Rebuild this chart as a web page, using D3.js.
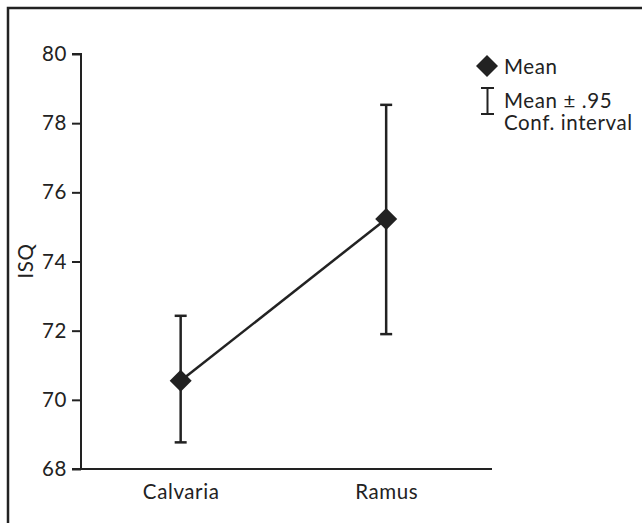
<!DOCTYPE html>
<html>
<head>
<meta charset="utf-8">
<script src="https://cdn.jsdelivr.net/npm/d3@7"></script>
<style>
  body { margin: 0; background: #fff; }
  text { font-family: Lato, "Noto Sans", sans-serif; fill: #222; letter-spacing: 0.6px; }
</style>
</head>
<body>
<div id="chart"></div>
<script>
// data
var groups = ["Calvaria", "Ramus"];
var means = [70.55, 75.23];
var lower = [68.77, 71.9];
var upper = [72.43, 78.53];
var yTicks = [68, 70, 72, 74, 76, 78, 80];

var width = 642, height = 523;
var ink = "#222";
var fontSize = 20.5;

var svg = d3.select("#chart")
    .append("svg")
    .attr("width", width)
    .attr("height", height);

// frame (top and left edges show in the picture)
svg.append("path")
    .attr("d", "M8,523 V8 H642")
    .attr("fill", "none")
    .attr("stroke", ink)
    .attr("stroke-width", 2.5);

// scales
var xScale = d3.scalePoint()
    .domain(groups)
    .range([81, 492])
    .padding(0.5)
    .align(0.485);

var yScale = d3.scaleLinear()
    .domain([68, 80])
    .range([469, 54]);

// axes
var yAxis = d3.axisLeft(yScale)
    .tickValues(yTicks)
    .tickSize(9)
    .tickPadding(5);

var gY = svg.append("g")
    .attr("transform", "translate(81,0)")
    .call(yAxis);

gY.select(".domain").attr("d", "M-9,54 H0 V469 H-9");

var xAxis = d3.axisBottom(xScale)
    .tickSize(0)
    .tickPadding(15);

var gX = svg.append("g")
    .attr("transform", "translate(0,469)")
    .call(xAxis);

gX.select(".domain").attr("d", "M81,0 H492");

svg.selectAll(".domain, .tick line")
    .attr("stroke", ink)
    .attr("stroke-width", 2);
svg.selectAll(".tick text")
    .attr("font-size", fontSize)
    .attr("fill", ink);

// y label
svg.append("text")
    .attr("transform", "translate(33,261) rotate(-90)")
    .attr("text-anchor", "middle")
    .attr("font-size", fontSize)
    .text("ISQ");

// error bars
var bars = svg.selectAll(".err")
    .data(groups)
    .enter().append("g")
    .attr("class", "err");

bars.append("line")
    .attr("x1", function(d) { return xScale(d); })
    .attr("x2", function(d) { return xScale(d); })
    .attr("y1", function(d, i) { return yScale(lower[i]); })
    .attr("y2", function(d, i) { return yScale(upper[i]); });

bars.append("line")
    .attr("x1", function(d) { return xScale(d) - 6; })
    .attr("x2", function(d) { return xScale(d) + 6; })
    .attr("y1", function(d, i) { return yScale(lower[i]); })
    .attr("y2", function(d, i) { return yScale(lower[i]); });

bars.append("line")
    .attr("x1", function(d) { return xScale(d) - 6; })
    .attr("x2", function(d) { return xScale(d) + 6; })
    .attr("y1", function(d, i) { return yScale(upper[i]); })
    .attr("y2", function(d, i) { return yScale(upper[i]); });

bars.selectAll("line")
    .attr("stroke", ink)
    .attr("stroke-width", 2.5);

// mean line
var line = d3.line()
    .x(function(d, i) { return xScale(groups[i]); })
    .y(function(d) { return yScale(d); });

svg.append("path")
    .datum(means)
    .attr("d", line)
    .attr("fill", "none")
    .attr("stroke", ink)
    .attr("stroke-width", 2.5);

// diamonds
var diamond = "M0,-11 L11,0 L0,11 L-11,0 Z";

svg.selectAll(".mean")
    .data(means)
    .enter().append("path")
    .attr("class", "mean")
    .attr("d", diamond)
    .attr("transform", function(d, i) {
      return "translate(" + xScale(groups[i]) + "," + yScale(d) + ")";
    })
    .attr("fill", ink);

// legend
var legend = svg.append("g");

legend.append("path")
    .attr("d", diamond)
    .attr("transform", "translate(487,66)")
    .attr("fill", ink);

legend.append("text")
    .attr("x", 504)
    .attr("y", 74)
    .attr("font-size", fontSize)
    .text("Mean");

legend.append("path")
    .attr("d", "M481,88 H494 M487.5,88 V114 M481,114 H494")
    .attr("fill", "none")
    .attr("stroke", ink)
    .attr("stroke-width", 2);

legend.append("text")
    .attr("x", 504)
    .attr("y", 108)
    .attr("font-size", fontSize)
    .text("Mean ± .95");

legend.append("text")
    .attr("x", 504)
    .attr("y", 130)
    .attr("font-size", fontSize)
    .text("Conf. interval");
</script>
</body>
</html>
